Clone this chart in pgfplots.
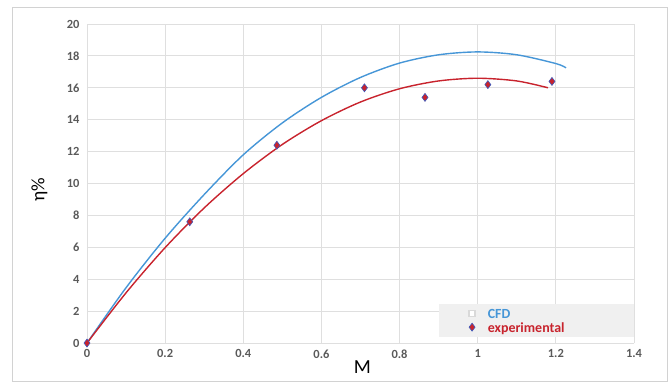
\documentclass[border=0pt]{standalone}
\usepackage{pgfplots}
\pgfplotsset{compat=1.18}
\usepackage{fontspec}
\setmainfont{Carlito}
\definecolor{cfdblue}{RGB}{70,150,215}
\definecolor{expred}{RGB}{200,35,45}
\definecolor{expedge}{RGB}{60,90,190}
\definecolor{tickgray}{RGB}{90,90,90}
\begin{document}
\begin{tikzpicture}[x=1bp,y=1bp]
\useasboundingbox (0,0) rectangle (671,382);
\draw[gray!35,line width=0.8bp] (12,1) rectangle (667,375);
\begin{axis}[
  at={(87bp,39bp)}, anchor=origin,
  scale only axis, width=547bp, height=319bp,
  xmin=0, xmax=1.4, ymin=0, ymax=20,
  xtick={0,0.2,...,1.4}, ytick={0,2,...,20},
  xticklabels={0,0.2,0.4,0.6,0.8,1,1.2,1.4},
  grid=major, grid style={gray!25, line width=0.8bp},
  axis line style={draw=none},
  tick style={draw=none},
  ticklabel style={font=\bfseries\fontsize{12.5}{13}\selectfont, text=tickgray},
  /pgf/number format/assume math mode=true,
  yticklabel style={xshift=-4bp},
  xticklabel style={yshift=-3bp},
  xlabel={M}, ylabel={η\%},
  xlabel style={font=\fontsize{20}{22}\selectfont, at={(axis cs:0.705,0)}, anchor=north, yshift=-14bp},
  ylabel style={font=\fontsize{19}{20}\selectfont, at={(rel axis cs:0,0.5)}, anchor=south, xshift=-6bp, yshift=36bp},
  legend style={at={(rel axis cs:1,0.018)}, anchor=south east, fill=gray!12, draw=none,
    font=\bfseries\fontsize{14}{15}\selectfont, row sep=0bp, inner xsep=29bp, inner ysep=3bp,
    nodes={text width=105bp, text depth=0pt, inner xsep=12bp}},
  legend cell align=left,
  clip=false,
]
\addplot[cfdblue, line width=1.4bp, smooth, mark=none,
  legend image code/.code={\draw[gray!30, fill=white] (0.3cm-3bp,-3bp) rectangle ++(6bp,6bp);}]
  coordinates {(0,0) (0.1,3.47) (0.2,6.57) (0.3,9.31) (0.4,11.8) (0.5,13.8) (0.6,15.4) (0.7,16.65)
  (0.8,17.55) (0.9,18.07) (1.0,18.25) (1.1,18.07) (1.2,17.52) (1.226,17.25)};
\addlegendentry{\textcolor{cfdblue}{CFD}}
\addplot[expred, line width=1.4bp, smooth, mark=none, forget plot]
  coordinates {(0,0) (0.1,3.15) (0.2,5.98) (0.3,8.47) (0.4,10.62) (0.5,12.45) (0.6,13.94) (0.7,15.11)
  (0.8,15.94) (0.9,16.43) (1.0,16.6) (1.1,16.43) (1.18,16.0)};
\addplot[only marks, mark=diamond*, mark size=4bp, mark options={fill=expred, draw=expedge, line width=0.6bp}]
  coordinates {(0,0) (0.263,7.6) (0.486,12.4) (0.71,16.0) (0.865,15.4) (1.026,16.2) (1.19,16.4)};
\addlegendentry{\textcolor{expred}{experimental}}
\end{axis}
\end{tikzpicture}
\end{document}
